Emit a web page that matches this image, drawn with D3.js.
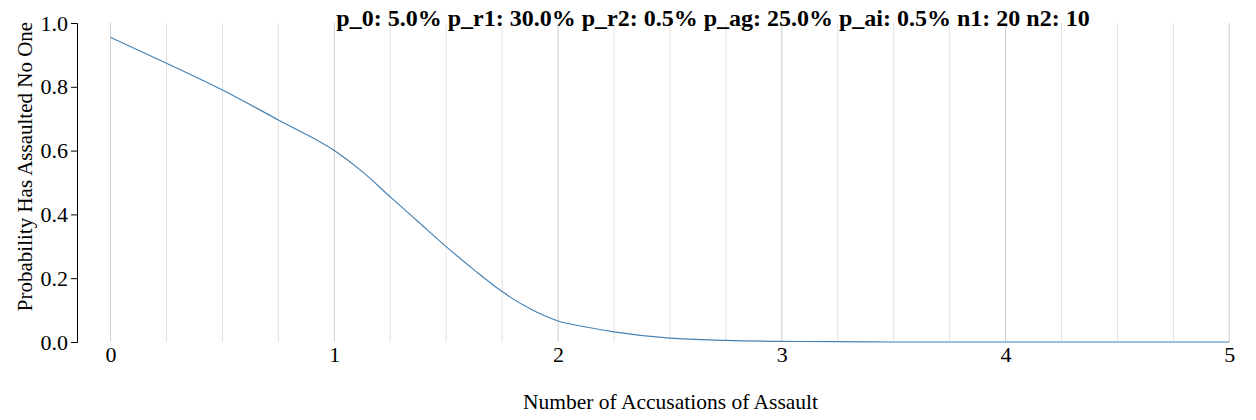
<!DOCTYPE html>
<html>
<head>
<meta charset="utf-8">
<script src="https://cdn.jsdelivr.net/npm/d3@7"></script>
<style>
  body { margin: 0; background: #fff; }
  svg { display: block; font-family: "Liberation Serif", "Times New Roman", serif; }
</style>
</head>
<body>
<svg id="chart" width="1256" height="420"></svg>
<script>
// Data
const accusations = [0, 0.25, 0.5, 0.75, 1, 1.125, 1.25, 1.375, 1.5, 1.625, 1.75, 1.875, 2, 2.125, 2.25, 2.5, 2.75, 3, 3.25, 3.5, 4, 4.5, 5];
const probNoOne   = [0.955, 0.874, 0.79, 0.696, 0.60, 0.534, 0.455, 0.377, 0.299, 0.226, 0.158, 0.104, 0.066, 0.047, 0.032, 0.012, 0.005, 0.002, 0.001, 0.0, 0.0, 0.0, 0.0];
const xTicks = [0, 1, 2, 3, 4, 5];
const yTicks = [0, 0.2, 0.4, 0.6, 0.8, 1.0];
const gridX = d3.range(0, 5.0001, 0.25);
const titleText = "p_0: 5.0% p_r1: 30.0% p_r2: 0.5% p_ag: 25.0% p_ai: 0.5% n1: 20 n2: 10";
const xLabel = "Number of Accusations of Assault";
const yLabel = "Probability Has Assaulted No One";

const svg = d3.select("#chart");
const mLeft = 77, mRight = 1229.3, mTop = 23, mBottom = 342;

const x = d3.scaleLinear().domain([-0.15, 5]).range([mLeft, mRight]);
const y = d3.scaleLinear().domain([0, 1]).range([mBottom, mTop]);

// vertical grid
svg.append("g").selectAll("line").data(gridX).join("line")
  .attr("x1", d => x(d)).attr("x2", d => x(d))
  .attr("y1", y(1)).attr("y2", y(0))
  .attr("stroke", d => Number.isInteger(d) ? "#cccccc" : "#e3e3e3")
  .attr("stroke-width", 1);

// y axis
const yAxis = svg.append("g").attr("transform", `translate(${mLeft},0)`)
  .call(d3.axisLeft(y).tickValues(yTicks).tickFormat(d3.format(".1f")));
yAxis.selectAll("text").style("font-size", "22px").style("font-family", "Liberation Serif, serif");
yAxis.selectAll("path,line").attr("stroke", "#000");

// x axis (labels only)
const xAxis = svg.append("g").attr("transform", `translate(0,${mBottom})`)
  .call(d3.axisBottom(x).tickValues(xTicks).tickFormat(d3.format("d")).tickSize(0).tickPadding(4));
xAxis.select(".domain").remove();
xAxis.selectAll("text").style("font-size", "22px").style("font-family", "Liberation Serif, serif");

// line
const data = accusations.map((a, i) => ({a, p: probNoOne[i]}));
svg.append("path").datum(data)
  .attr("fill", "none")
  .attr("stroke", "steelblue")
  .attr("stroke-width", 1.2)
  .attr("d", d3.line().x(d => x(d.a)).y(d => y(d.p)).curve(d3.curveMonotoneX));

// title
svg.append("text")
  .attr("x", 713).attr("y", 26)
  .attr("text-anchor", "middle")
  .style("font-size", "24px").style("font-weight", "bold")
  .text(titleText);

// x label
svg.append("text")
  .attr("x", 670.5).attr("y", 409)
  .attr("text-anchor", "middle")
  .style("font-size", "21.5px")
  .text(xLabel);

// y label
svg.append("text")
  .attr("transform", "translate(32,166.5) rotate(-90)")
  .attr("text-anchor", "middle")
  .style("font-size", "21px")
  .text(yLabel);
</script>
</body>
</html>
